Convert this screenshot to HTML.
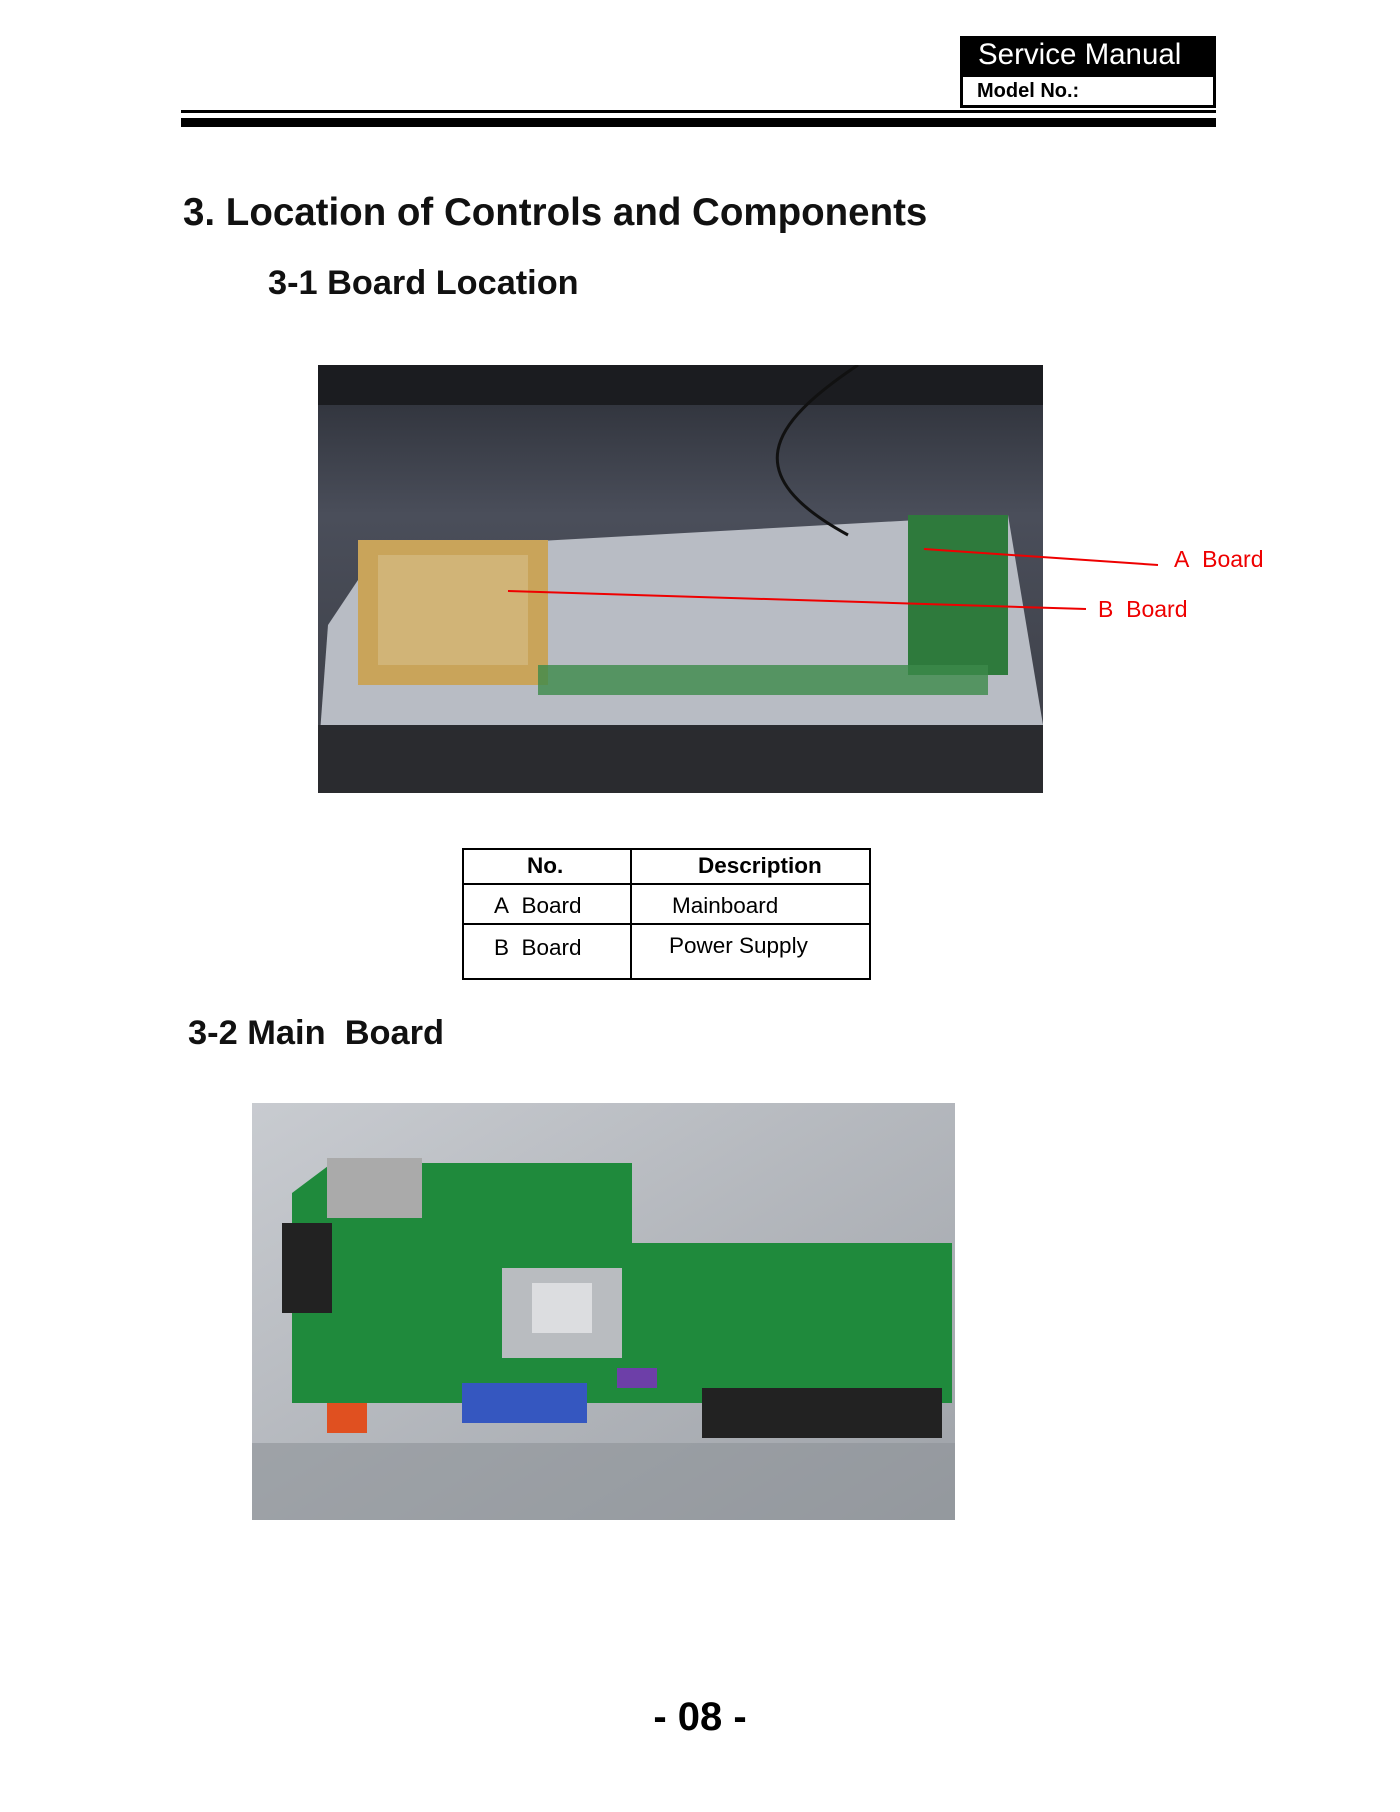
<!DOCTYPE html>
<html><head><meta charset="utf-8"><style>
body{margin:0;width:1400px;height:1812px;background:#fff;position:relative;font-family:"Liberation Sans",Arial,sans-serif;overflow:hidden}
.a{position:absolute}
</style></head><body>
<div class="a" style="left:960px;top:36px;width:256px;height:38px;background:#000;color:#fff;font-size:29.5px;line-height:38px;padding-left:18px;box-sizing:border-box">Service Manual</div>
<div class="a" style="left:960px;top:74px;width:256px;height:34px;border:3px solid #000;box-sizing:border-box;font-size:20px;font-weight:bold;line-height:28px;padding-left:14px">Model No.:</div>
<div class="a" style="left:181px;top:110px;width:1035px;height:3px;background:#000"></div>
<div class="a" style="left:181px;top:118px;width:1035px;height:9px;background:#000"></div>
<div class="a" style="left:183px;top:191px;font-size:38.5px;font-weight:bold;color:#111">3. Location of Controls and Components</div>
<div class="a" style="left:268px;top:264px;font-size:34.3px;font-weight:bold;color:#111">3-1 Board Location</div>

<svg class="a" style="left:318px;top:365px" width="725" height="428">
<defs><linearGradient id="g1" x1="0" y1="0" x2="0" y2="1"><stop offset="0" stop-color="#2a2d35"/><stop offset="0.35" stop-color="#4a4e5a"/><stop offset="1" stop-color="#3b3d44"/></linearGradient></defs>
<rect width="725" height="428" fill="url(#g1)"/>
<rect x="0" y="0" width="725" height="40" fill="#1b1c20"/>
<polygon points="60,185 690,150 725,360 725,395 0,395 10,260" fill="#b8bcc4"/>
<rect x="40" y="175" width="190" height="145" fill="#c9a45a"/>
<rect x="60" y="190" width="150" height="110" fill="#d7c08a" opacity=".6"/>
<rect x="590" y="150" width="100" height="160" fill="#2e7a3c"/>
<rect x="220" y="300" width="450" height="30" fill="#3c8a4a" opacity=".8"/>
<rect x="0" y="360" width="725" height="68" fill="#2a2b2f"/>
<path d="M540,0 C450,60 420,110 530,170" stroke="#111" stroke-width="3" fill="none"/>
</svg>
<svg class="a" style="left:0;top:0" width="1400" height="800">
<line x1="924" y1="549" x2="1158" y2="565" stroke="#e00" stroke-width="2"/>
<line x1="508" y1="591" x2="1086" y2="609" stroke="#e00" stroke-width="2"/>
</svg>
<div class="a" style="left:1174px;top:546px;font-size:23px;color:#e00">A&nbsp; Board</div>
<div class="a" style="left:1098px;top:596px;font-size:23px;color:#e00">B&nbsp; Board</div>

<div class="a" style="left:462px;top:848px;width:409px;height:132px;border:2px solid #000;box-sizing:border-box"></div>
<div class="a" style="left:630px;top:848px;width:2px;height:132px;background:#000"></div>
<div class="a" style="left:462px;top:883px;width:409px;height:2px;background:#000"></div>
<div class="a" style="left:462px;top:923px;width:409px;height:2px;background:#000"></div>
<div class="a" style="left:527px;top:853px;font-size:22.5px;font-weight:bold">No.</div>
<div class="a" style="left:698px;top:853px;font-size:22.5px;font-weight:bold">Description</div>
<div class="a" style="left:494px;top:893px;font-size:22.5px">A&nbsp; Board</div>
<div class="a" style="left:672px;top:893px;font-size:22.5px">Mainboard</div>
<div class="a" style="left:494px;top:935px;font-size:22.5px">B&nbsp; Board</div>
<div class="a" style="left:669px;top:933px;font-size:22.5px">Power Supply</div>

<div class="a" style="left:188px;top:1014px;font-size:34.4px;font-weight:bold;color:#111">3-2 Main&nbsp; Board</div>

<svg class="a" style="left:252px;top:1103px" width="703" height="417">
<defs><linearGradient id="g2" x1="0" y1="0" x2="1" y2="1"><stop offset="0" stop-color="#c8cbd0"/><stop offset="1" stop-color="#9ea2a8"/></linearGradient></defs>
<rect width="703" height="417" fill="url(#g2)"/>
<polygon points="80,60 380,60 380,140 700,140 700,300 40,300 40,90" fill="#1f8a3c"/>
<rect x="250" y="165" width="120" height="90" fill="#b9bcc0"/>
<rect x="280" y="180" width="60" height="50" fill="#dcdde0"/>
<rect x="210" y="280" width="125" height="40" fill="#3557c0"/>
<rect x="365" y="265" width="40" height="20" fill="#6d3fa8"/>
<rect x="75" y="55" width="95" height="60" fill="#aaa"/>
<rect x="30" y="120" width="50" height="90" fill="#222"/>
<rect x="75" y="300" width="40" height="30" fill="#e05020"/>
<rect x="450" y="285" width="240" height="50" fill="#222"/>
<rect x="0" y="340" width="703" height="77" fill="#8e9298" opacity=".6"/>
</svg>

<div class="a" style="left:0;width:1400px;top:1695px;text-align:center;font-size:40px;font-weight:bold">- 08 -</div>
</body></html>
